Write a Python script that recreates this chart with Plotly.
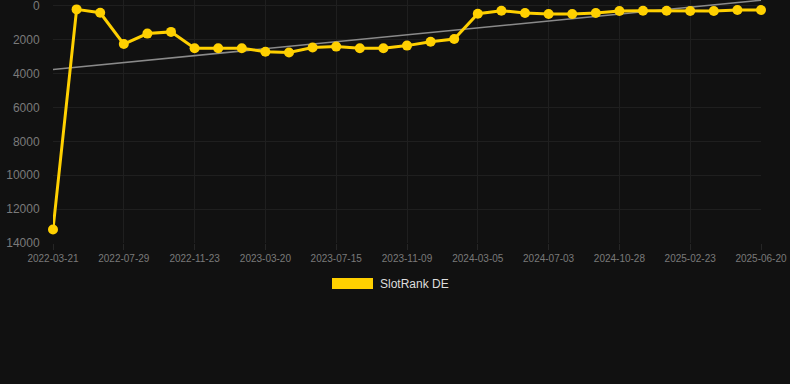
import numpy as np
import plotly.graph_objects as go

dates = ["2022-03-21", "2022-05-03", "2022-06-16", "2022-07-29", "2022-09-06",
         "2022-10-15", "2022-11-23", "2023-01-01", "2023-02-09", "2023-03-20",
         "2023-04-28", "2023-06-06", "2023-07-15", "2023-08-23", "2023-10-01",
         "2023-11-09", "2023-12-18", "2024-01-26", "2024-03-05", "2024-04-13",
         "2024-05-25", "2024-07-03", "2024-08-11", "2024-09-19", "2024-10-28",
         "2024-12-06", "2025-01-14", "2025-02-23", "2025-04-03", "2025-05-12",
         "2025-06-20"]
rank_de = [13200, 200, 400, 2250, 1630, 1530, 2500, 2500, 2500, 2700,
           2750, 2450, 2400, 2500, 2500, 2340, 2110, 1950, 455, 280,
           410, 470, 470, 410, 300, 280, 280, 300, 300, 240, 240]
tick_labels = dates[::3]
y_ticks = [0, 2000, 4000, 6000, 8000, 10000, 12000, 14000]
y_tick_text = [str(v) for v in y_ticks]
series_name = "SlotRank DE"

idx = np.arange(len(rank_de))
slope, intercept = np.polyfit(idx, rank_de, 1)
trend = [intercept, intercept + slope * idx[-1]]

yellow = "#FFD000"
fig = go.Figure()
fig.add_trace(go.Scatter(
    x=[dates[0], dates[-1]], y=trend, mode="lines",
    line=dict(color="#8a8a8a", width=1.6), showlegend=False,
    hoverinfo="skip"))
fig.add_trace(go.Scatter(
    x=dates, y=rank_de, mode="lines+markers", name=series_name,
    line=dict(color=yellow, width=3),
    marker=dict(color=yellow, size=10), cliponaxis=False, showlegend=False))

fig.update_layout(
    width=790, height=384,
    paper_bgcolor="#111111", plot_bgcolor="#111111",
    margin=dict(l=53, r=29, t=0, b=141),
    font=dict(family="Liberation Sans, Arial, sans-serif", color="#777777"),
    showlegend=False,
    xaxis=dict(
        type="category", categoryorder="array", categoryarray=dates,
        range=[0, len(dates) - 1],
        tickmode="array", tickvals=tick_labels, ticktext=tick_labels,
        tickfont=dict(size=10, color="#7a7a7a"),
        showgrid=True, gridcolor="#1f1f1f", gridwidth=1,
        ticks="outside", ticklen=6, tickcolor="#262626",
        showline=False, zeroline=False, ticklabeloverflow="allow"),
    yaxis=dict(
        range=[14000, -354], tickvals=y_ticks, ticktext=y_tick_text,
        tickfont=dict(size=12, color="#7a7a7a"),
        showgrid=True, gridcolor="#1f1f1f", gridwidth=1,
        ticks="outside", ticklen=10, tickcolor="rgba(0,0,0,0)",
        zeroline=False, showline=False, ticklabeloverflow="allow"),
    shapes=[dict(type="rect", xref="paper", yref="paper",
                 x0=(332 - 53) / 708, x1=(373 - 53) / 708,
                 y0=-(289 - 243) / 243, y1=-(278 - 243) / 243,
                 fillcolor=yellow, line=dict(width=0))],
    annotations=[dict(text=series_name, xref="paper", yref="paper",
                      x=(378 - 53) / 708, y=-(284 - 243) / 243,
                      xanchor="left", yanchor="middle", showarrow=False,
                      font=dict(size=12, color="#dddddd"))],
)
fig.write_html("out.html", config={"displayModeBar": False},
               post_script="document.body.style.margin='0';"
                           "document.body.style.background='#111111';")
